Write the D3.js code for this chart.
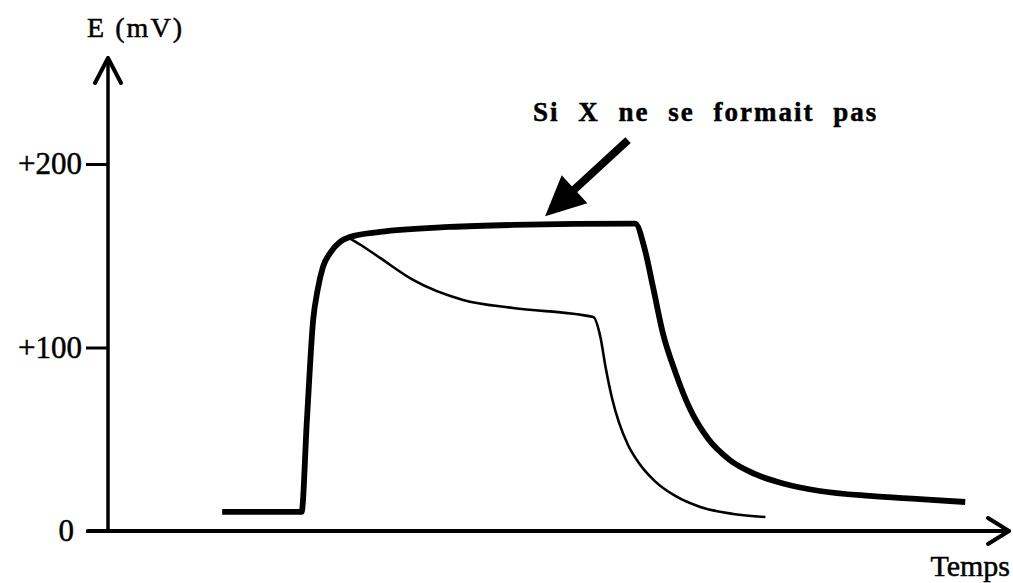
<!DOCTYPE html>
<html>
<head>
<meta charset="utf-8">
<script src="https://cdn.jsdelivr.net/npm/d3@7"></script>
<style>
  html, body { margin: 0; padding: 0; background: #fff; }
  svg { display: block; }
  text { font-family: "Liberation Serif", "Times New Roman", serif; fill: #000; stroke: #000; stroke-width: 0.5px; }
</style>
</head>
<body>
<svg id="chart" width="1013" height="583"></svg>
<script>
// Potential E (mV) against time (arbitrary units)
const timeNoX = [12.8, 21.7, 22.3, 23.0, 23.5, 24.1, 24.9, 26.0, 27.1, 30.5, 38.3, 45.4, 59.1,
                 60.2, 61.1, 62.2, 63.6, 65.2, 67.3, 69.7, 72.5, 75.9, 79.8, 85.4, 91.0, 96.1];
const potentialNoX = [10.4, 10.4, 60.5, 115, 131.3, 143.9, 151.5, 157.5, 160.2, 163, 165.7, 166.8, 167.5,
                      153, 133, 107.9, 86.6, 67, 50.1, 38.7, 31.1, 25.6, 21.8, 19.1, 17.4, 15.8];

const timeWithX = [26.9, 28.3, 30.5, 34.2, 39.8, 45.4, 54.4, 55.2, 55.8, 56.5, 57.3, 58.3, 59.6,
                   61.3, 63.6, 66.4, 70.1, 73.7];
const potentialWithX = [160, 156, 148.8, 136.8, 125.9, 121.5, 116.6, 105.7, 88.8, 72.5, 58.9, 46.9, 36.5,
                        27.2, 19.1, 13.1, 9.3, 7.6];

const yTickValues = [0, 100, 200];
const yTickLabels = ["0", "+100", "+200"];
const yAxisTitle = "E (mV)";
const xAxisTitle = "Temps";
const noteText = "Si X ne se formait pas";

const svg = d3.select("#chart");

const x = d3.scaleLinear().domain([0, 100]).range([108, 1000]);
const y = d3.scaleLinear().domain([0, 200]).range([531, 164]);

// y axis ticks and labels
const yAxis = d3.axisLeft(y)
  .tickValues(yTickValues)
  .tickSize(22)
  .tickPadding(4)
  .tickFormat((d, i) => yTickLabels[i]);

const gy = svg.append("g")
  .attr("transform", `translate(${x(0)},0)`)
  .call(yAxis);
gy.select(".domain").remove();
gy.selectAll(".tick line").attr("stroke", "#000").attr("stroke-width", 3);
gy.selectAll(".tick text")
  .attr("font-size", 31)
  .attr("fill", "#000")
  .attr("dx", d => d === 0 ? -8 : 0);

// axis lines with open arrowheads
const axes = svg.append("g")
  .attr("fill", "none")
  .attr("stroke", "#000")
  .attr("stroke-linecap", "round")
  .attr("stroke-linejoin", "round");

axes.append("line")
  .attr("x1", x(0)).attr("y1", y(0))
  .attr("x2", x(0)).attr("y2", 58)
  .attr("stroke-width", 3.5);
axes.append("path")
  .attr("d", `M${x(0) - 13},83 L${x(0)},58 L${x(0) + 13},83`)
  .attr("stroke-width", 4);

axes.append("line")
  .attr("x1", 88).attr("y1", y(0))
  .attr("x2", 1009).attr("y2", y(0))
  .attr("stroke-width", 4);
axes.append("path")
  .attr("d", `M988,${y(0) - 13} L1009,${y(0)} L988,${y(0) + 13}`)
  .attr("stroke-width", 4);

// axis titles
svg.append("text")
  .attr("x", 87).attr("y", 37)
  .attr("font-size", 28)
  .attr("textLength", 95)
  .attr("lengthAdjust", "spacing")
  .text(yAxisTitle);

svg.append("text")
  .attr("x", 1010).attr("y", 576)
  .attr("text-anchor", "end")
  .attr("font-size", 30)
  .text(xAxisTitle);

// curves
const line = d3.line()
  .x(d => x(d[0]))
  .y(d => y(d[1]))
  .curve(d3.curveMonotoneX);

svg.append("path")
  .datum(d3.zip(timeWithX, potentialWithX))
  .attr("d", line)
  .attr("fill", "none")
  .attr("stroke", "#000")
  .attr("stroke-width", 2.6)
  .attr("stroke-linejoin", "round");

svg.append("path")
  .datum(d3.zip(timeNoX, potentialNoX))
  .attr("d", line)
  .attr("fill", "none")
  .attr("stroke", "#000")
  .attr("stroke-width", 5.8)
  .attr("stroke-linecap", "butt")
  .attr("stroke-linejoin", "round");

// annotation with a solid pointer arrow
const tip = [x(49), y(171.5)];
const tail = [x(58.3), y(213)];
const dx = tail[0] - tip[0], dy = tail[1] - tip[1];
const len = Math.hypot(dx, dy);
const ux = dx / len, uy = dy / len;
const headLen = 40, headHalf = 19;
const base = [tip[0] + ux * headLen, tip[1] + uy * headLen];
const px = -uy, py = ux;

svg.append("line")
  .attr("x1", base[0] - ux * 2).attr("y1", base[1] - uy * 2)
  .attr("x2", tail[0]).attr("y2", tail[1])
  .attr("stroke", "#000")
  .attr("stroke-width", 8);

svg.append("path")
  .attr("d", `M${tip[0]},${tip[1]} L${base[0] + px * headHalf},${base[1] + py * headHalf} L${base[0] - px * headHalf},${base[1] - py * headHalf} Z`)
  .attr("fill", "#000");

svg.append("text")
  .attr("x", 533).attr("y", 121)
  .attr("font-size", 27)
  .attr("font-weight", "bold")
  .style("letter-spacing", "2px")
  .style("word-spacing", "10px")
  .text(noteText);
</script>
</body>
</html>
